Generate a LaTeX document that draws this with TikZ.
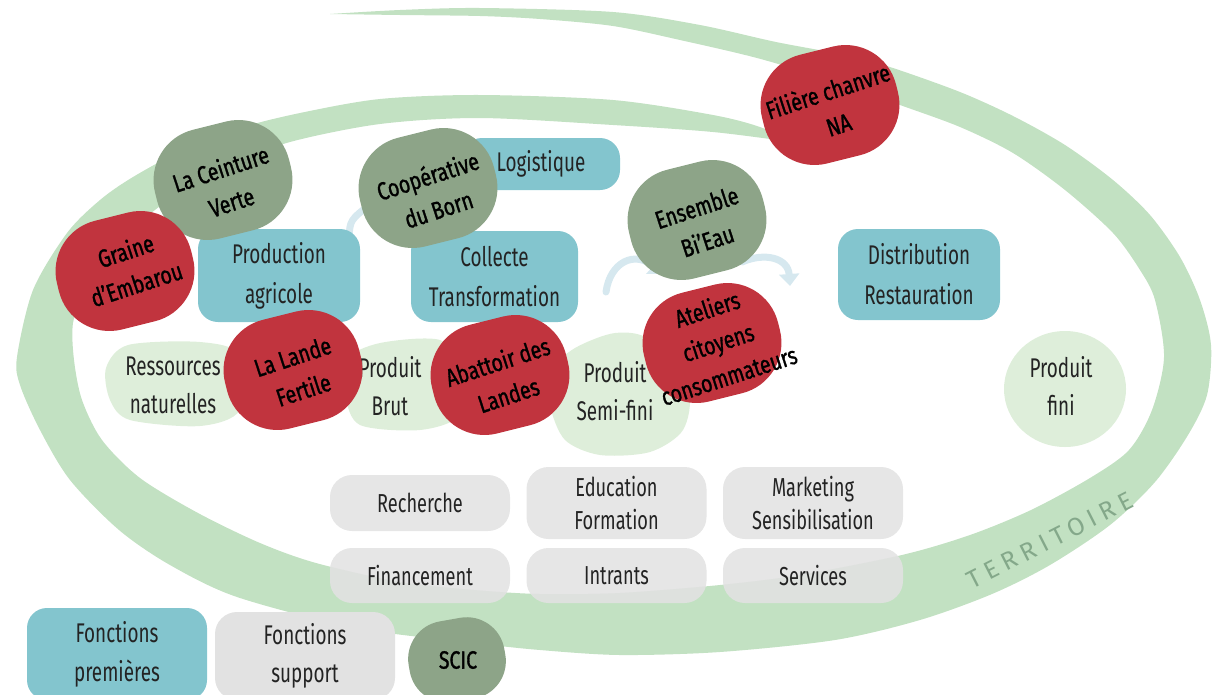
\documentclass[tikz,border=0pt]{standalone}
\usepackage{fontspec}
\setmainfont{Fira Sans}
\newfontfamily\hand{Fira Sans}[FakeStretch=0.7]
\newfontfamily\blobf{Fira Sans}[FakeStretch=0.78,FakeBold=1.2]
\newfontfamily\terr{Fira Sans}[LetterSpace=24]
\usetikzlibrary{arrows.meta,shapes.geometric}
\definecolor{teal1}{RGB}{131,197,206}
\definecolor{grey1}{RGB}{226,226,226}
\definecolor{red1}{RGB}{193,52,62}
\definecolor{green1}{RGB}{141,164,136}
\definecolor{lgreen}{RGB}{222,238,218}
\definecolor{band}{RGB}{194,225,194}
\definecolor{arr}{RGB}{214,232,239}
\definecolor{txt}{RGB}{35,35,35}
\definecolor{terrc}{RGB}{132,168,138}
\tikzset{
 tbox/.style={fill=teal1, rounded corners=20pt, inner sep=0pt, align=center, text=txt, font=\hand\fontsize{27}{40}\selectfont},
 gbox/.style={fill=grey1, fill opacity=0.88, text opacity=1, rounded corners=22pt, inner sep=0pt, align=center, text=txt, font=\hand\fontsize{26}{33}\selectfont, minimum width=180pt},
 blob/.style={rounded corners=52pt, inner sep=0pt, rotate=14, minimum width=138pt, minimum height=112pt},
 rblob/.style={blob, fill=red1},
 gblob/.style={blob, fill=green1},
 btxt/.style={rotate=18, align=center, text=black, font=\blobf\fontsize{25}{35}\selectfont, inner sep=0pt},
 ptxt/.style={align=center, text=txt, font=\hand\fontsize{27}{38}\selectfont, inner sep=0pt},
 farrow/.style={draw=arr, line width=7pt, line cap=round},
 lblob/.style={fill=lgreen},
}
\begin{document}
\begin{tikzpicture}[x=1pt,y=-1pt]
\useasboundingbox (0,0) rectangle (1214,694);
\clip (0,0) rectangle (1214,694);
% territoire band (spiral)
\fill[band] plot[smooth] coordinates {(330,14) (400,10) (480,8) (613,12) (700,25) (776,42) (850,56) (893,68) (960,92) (1013,116) (1065,145) (1113,180) (1150,215) (1180,257) (1200,300) (1211,345) (1207,395) (1188,435) (1155,482) (1110,525) (1050,565) (992,594) (920,620) (835,640) (720,652) (620,655) (540,650) (474,643) (356,628) (237,597) (170,565) (119,530) (70,480) (40,430) (20,385) (17,357) (33,290) (67,233) (100,200) (133,177) (183,150) (240,128) (300,113) (380,99) (480,95) (613,100) (713,115) (760,127) (792,142)}
 -- plot[smooth] coordinates {(792,142) (713,132) (613,125) (480,118) (380,124) (290,142) (230,165) (180,192) (140,222) (105,255) (85,290) (73,323) (74,360) (82,400) (102,440) (140,478) (198,513) (260,543) (316,563) (400,582) (474,590) (540,594) (620,593) (720,585) (800,575) (902,555) (970,535) (1031,510) (1090,478) (1129,450) (1152,410) (1164,357) (1155,300) (1140,270) (1113,233) (1065,190) (1013,153) (960,127) (900,105) (830,80) (757,58) (680,40) (613,26) (540,19) (480,16) (400,15) (330,14)} -- cycle;
\node[rotate=27, text=terrc, font=\terr\fontsize{25}{25}\selectfont, inner sep=0pt] (terr) at (1050,540) {TERRITOIRE};

% light green product blobs
\fill[lblob] plot[smooth cycle] coordinates {(106,368) (128,345) (200,342) (240,355) (240,410) (200,426) (130,420) (110,400)};
\fill[lblob] plot[smooth cycle] coordinates {(345,360) (380,343) (440,340) (462,370) (460,415) (420,430) (360,425) (345,395)};
\fill[lblob] plot[smooth cycle] coordinates {(552,370) (575,348) (615,333) (650,340) (688,390) (683,430) (650,452) (600,455) (565,440) (550,405)};
\node[lblob, ellipse, minimum width=122pt, minimum height=116pt, inner sep=0pt] (fini) at (1065,389) {};
\node[ptxt] (ressT) at (173,385) {Ressources\\naturelles};
\node[ptxt] (brutT) at (390,386) {Produit\\Brut};
\node[ptxt] (semiT) at (615,391) {Produit\\Semi-fini};
\node[ptxt] (finiT) at (1061,386) {Produit\\fini};

% faint arrows
\coordinate (a1s) at (349,238); \coordinate (a1e) at (372,203);
\coordinate (a2s) at (606,292); \coordinate (a2e) at (662,274);
\coordinate (a3s) at (742,262); \coordinate (a3e) at (790,286);
\draw[farrow] (a1s) .. controls (350,220) .. (a1e);
\draw[farrow, -{Triangle[width=20pt,length=12pt]}] (a2s) .. controls (610,262) and (635,250) .. (a2e);
\draw[farrow, -{Triangle[width=20pt,length=12pt]}] (a3s) .. controls (765,252) and (788,258) .. (a3e);

% fonctions premieres
\node[tbox, minimum width=158pt, minimum height=52pt] (logi) at (541,164) {Logistique};
\node[tbox, minimum width=162pt, minimum height=93pt] (prod) at (279,275.5) {Production\\agricole};
\node[tbox, minimum width=167pt, minimum height=91pt] (coll) at (494.5,276.5) {Collecte\\Transformation};
\node[tbox, minimum width=162pt, minimum height=91pt] (dist) at (919,274.5) {Distribution\\Restauration};

% fonctions support
\node[gbox, minimum height=56pt] (rech) at (420,503) {Recherche};
\node[gbox, minimum height=72pt] (educ) at (616.5,503) {Education\\Formation};
\node[gbox, minimum height=72pt] (mark) at (813,503) {Marketing\\Sensibilisation};
\node[gbox, minimum height=55pt] (fina) at (420,575.5) {Financement};
\node[gbox, minimum height=55pt] (intr) at (616.5,575.5) {Intrants};
\node[gbox, minimum height=55pt] (serv) at (813,575.5) {Services};

% legend
\node[tbox, minimum width=180pt, minimum height=92pt, font=\hand\fontsize{27}{39}\selectfont] (legp) at (117,654) {Fonctions\\premières};
\node[gbox, fill opacity=1, minimum width=180pt, minimum height=88pt, font=\hand\fontsize{27}{38}\selectfont] (legs) at (305,656) {Fonctions\\support};

% actor blobs
\node[gblob] (ceint) at (223,180) {};
\node[btxt] (ceintT) at (226,185) {La Ceinture\\Verte};
\node[rblob] (graine) at (125,271) {};
\node[btxt] (graineT) at (131,267) {Graine\\d’Embarou};
\node[gblob] (coop) at (428,188) {};
\node[btxt] (coopT) at (433,192) {Coopérative\\du Born};
\node[gblob] (ens) at (697,220) {};
\node[btxt] (ensT) at (702,224) {Ensemble\\Bi’Eau};
\node[rblob] (fil) at (830,105) {};
\node[btxt] (filT) at (833,107) {Filière chanvre\\NA};
\node[rblob] (lande) at (293,370) {};
\node[btxt] (landeT) at (298,373) {La Lande\\Fertile};
\node[rblob] (abat) at (500,375) {};
\node[btxt] (abatT) at (503,378) {Abattoir des\\Landes};
\node[rblob] (atel) at (712,343) {};
\node[btxt] (atelT) at (718,342) {Ateliers\\citoyens\\consommateurs};
\node[fill=green1, rounded corners=38pt, minimum width=97pt, minimum height=82pt, inner sep=0pt, rotate=10] (scic) at (457,660) {};
\node[btxt, rotate=-18] (scicT) at (458,660) {SCIC};
\end{tikzpicture}
\end{document}
